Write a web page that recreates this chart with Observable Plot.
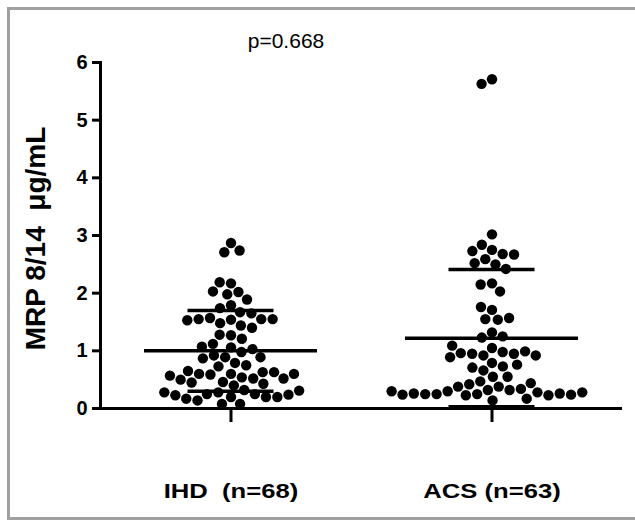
<!DOCTYPE html>
<html><head><meta charset="utf-8">
<script src="https://cdn.jsdelivr.net/npm/d3@7"></script>
<script src="https://cdn.jsdelivr.net/npm/@observablehq/plot@0.6"></script>
<style>
html,body{margin:0;padding:0;background:#fff;overflow:hidden;}
#wrap{position:relative;width:635px;height:521px;overflow:hidden;}
#chart{position:absolute;left:0;top:0;}
#border{position:absolute;left:7px;top:7px;width:700px;height:513px;box-sizing:border-box;border:3px solid #a0a0a0;pointer-events:none;}
</style></head><body>
<div id="wrap"><div id="chart"></div><div id="border"></div></div>
<script>
const groups = ["IHD\u00a0\u00a0(n=68)", "ACS (n=63)"];
const ihdValues = [
  2.87, 2.71, 2.74,
  2.17, 2.19,
  2.02, 1.98, 2.03,
  1.89,
  1.79, 1.74,
  1.67, 1.65,
  1.54, 1.48, 1.57, 1.55, 1.55, 1.55, 1.44, 1.53,
  1.40,
  1.27, 1.28, 1.21,
  1.12, 1.06, 0.98, 1.03, 1.07,
  0.89, 0.92, 0.87, 0.89,
  0.79, 0.73, 0.75,
  0.60, 0.59, 0.54, 0.52, 0.63, 0.46, 0.60, 0.40, 0.63, 0.65, 0.43, 0.50, 0.52, 0.57, 0.60, 0.45,
  0.32, 0.28, 0.25, 0.25, 0.20, 0.20, 0.14, 0.08, 0.08, 0.17, 0.20, 0.23, 0.24, 0.28, 0.31
];
const acsValues = [
  5.71, 5.63,
  3.02,
  2.75, 2.84,
  2.68, 2.73, 2.67,
  2.59,
  2.50, 2.52, 2.42,
  2.17, 2.15, 2.03,
  1.71, 1.76,
  1.55, 1.54, 1.57,
  1.32, 1.23, 1.25,
  1.05, 0.92, 0.98, 0.95, 0.95, 0.96, 0.99, 1.09, 0.89, 0.92,
  0.79, 0.73, 0.66, 0.71, 0.76,
  0.55, 0.55,
  0.47, 0.42, 0.38, 0.32, 0.32, 0.34, 0.38, 0.44,
  0.30, 0.28, 0.25, 0.25, 0.23, 0.23, 0.25, 0.26, 0.26, 0.24, 0.24, 0.28, 0.30,
  0.14, 0.17
];
const groupMeans = [1.00, 1.22];
const groupSDs = [0.70, 1.19];
const yTicks = [0, 1, 2, 3, 4, 5, 6];
const pLabel = "p=0.668";
const yTitle = "MRP 8/14\u00a0\u00a0\u03bcg/mL";

const points = [
  ...ihdValues.map(v => ({group: groups[0], value: v})),
  ...acsValues.map(v => ({group: groups[1], value: v}))
];
const summary = groups.map((g, i) => ({group: g, mean: groupMeans[i], sd: groupSDs[i]}));

const chart = Plot.plot({
  width: 635, height: 521,
  marginLeft: 100, marginRight: 13, marginTop: 62, marginBottom: 113,
  style: {fontFamily: "'Liberation Sans', Arial, sans-serif", color: "black", background: "transparent"},
  fx: {domain: groups, padding: 0, label: null},
  y: {domain: [0, 6]},
  marks: [
    Plot.frame({anchor: "left", facetAnchor: "left", strokeWidth: 3}),
    Plot.ruleY([0], {strokeWidth: 3}),
    Plot.axisY({ticks: yTicks, tickSize: 8, tickPadding: 5, strokeWidth: 3, fontSize: 20, fontWeight: "bold", label: null, tickFormat: d3.format("d")}),
    Plot.axisFx({anchor: "bottom", tickSize: 14, tickPadding: 61, strokeWidth: 3, fontSize: 21, fontWeight: "bold", label: null}),
    Plot.text([yTitle], {fx: [groups[0]], text: d => d, frameAnchor: "left", textAnchor: "middle", rotate: -90, dx: -75, dy: 3, lineAnchor: "top", fontSize: 28, fontWeight: "bold"}),
    Plot.text([pLabel], {fx: [groups[0]], text: d => d, frameAnchor: "top", lineAnchor: "middle", dx: 55, dy: -21, fontSize: 21, ariaLabel: "p-value"}),
    Plot.dot(points, Plot.dodgeX("middle", {fx: "group", y: "value", r: 5.2, padding: 0.6, fill: "black", stroke: "none"})),
    Plot.ruleX(summary, {fx: "group", y1: d => d.mean - d.sd, y2: d => d.mean + d.sd, strokeWidth: 3.5}),
    Plot.tickY(summary, {fx: "group", y: "mean", insetLeft: 44, insetRight: 44, strokeWidth: 3.5}),
    Plot.tickY(summary, {fx: "group", y: d => d.mean + d.sd, insetLeft: 87.5, insetRight: 87.5, strokeWidth: 3.5}),
    Plot.tickY(summary, {fx: "group", y: d => d.mean - d.sd, insetLeft: 87.5, insetRight: 87.5, strokeWidth: 3.5})
  ]
});
document.getElementById("chart").append(chart);

function stretch(sel, k) {
  chart.querySelectorAll(sel).forEach(t => {
    const w = t.getComputedTextLength();
    t.setAttribute("textLength", (w * k).toFixed(1));
    t.setAttribute("lengthAdjust", "spacingAndGlyphs");
  });
}
stretch('g[aria-label^="fx-axis"] text', 1.22);
stretch('g[aria-label="p-value"] text', 1.2);
</script>
</body></html>
